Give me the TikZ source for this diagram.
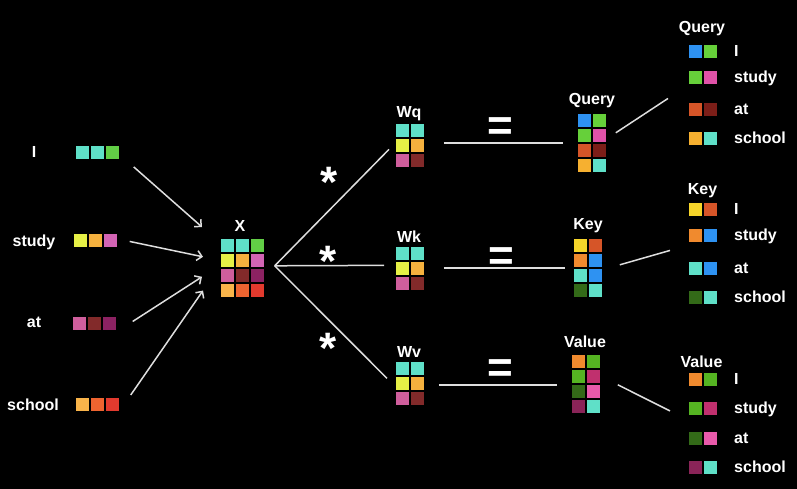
\documentclass[tikz,border=0pt]{standalone}
\usepackage{fontspec}
\setmainfont{Liberation Sans}
\usetikzlibrary{arrows.meta,calc}

\definecolor{linegray}{HTML}{DEDEDE}
\definecolor{cTeal}{HTML}{5FE0C8}
\definecolor{cGreen}{HTML}{62CE46}
\definecolor{cYellow}{HTML}{E6F046}
\definecolor{cOrange}{HTML}{F5B13E}
\definecolor{cOrchid}{HTML}{D264B4}
\definecolor{cRose}{HTML}{CF5E9C}
\definecolor{cBrown}{HTML}{822A2A}
\definecolor{cPlum}{HTML}{8C2262}
\definecolor{cApricot}{HTML}{F9B44A}
\definecolor{cFlame}{HTML}{EE6430}
\definecolor{cRed}{HTML}{E23A2E}
\definecolor{cBlue}{HTML}{2E92F2}
\definecolor{cLime}{HTML}{66D03A}
\definecolor{cHot}{HTML}{E052A8}
\definecolor{cRust}{HTML}{D65528}
\definecolor{cWine}{HTML}{7C1E18}
\definecolor{cGold}{HTML}{F6B030}
\definecolor{cSun}{HTML}{F6D52A}
\definecolor{cCarrot}{HTML}{F08A2E}
\definecolor{cForest}{HTML}{336A18}
\definecolor{cGrass}{HTML}{55B422}
\definecolor{cMagenta}{HTML}{C0306E}
\definecolor{cPink}{HTML}{E85AAA}
\definecolor{cMaroon}{HTML}{8A2458}

% one coloured square of a vector or matrix
\newcommand\cellc[1]{\node[cell,fill=#1]{};}

\begin{document}
\begin{tikzpicture}[x=1pt,y=-1pt,
  cell/.style={draw=black,line width=0.9pt,minimum width=14pt,minimum height=14pt,inner sep=0pt,outer sep=0pt},
  mat/.style={inner sep=0pt,outer sep=0pt,column sep=0pt,row sep=0pt,anchor=north west},
  lbl/.style={text=white,font=\fontsize{16}{19}\selectfont\bfseries,inner sep=0pt,anchor=base},
  word/.style={lbl,anchor=base west},
  link/.style={draw=linegray,line width=1.5pt},
  arr/.style={link,-{Straight Barb[length=5pt,width=10pt]}},
  opsign/.style={text=white,font=\fontsize{44}{48}\selectfont\bfseries,inner sep=0pt,anchor=base},
]
\fill[black] (0,0) rectangle (797,489);
\useasboundingbox (0,0) rectangle (797,489);

% input word embeddings
\matrix (wI) [mat] at (75,145) {\cellc{cTeal}&\cellc{cTeal}&\cellc{cGreen}\\};
\matrix (wS) [mat] at (73,233) {\cellc{cYellow}&\cellc{cOrange}&\cellc{cOrchid}\\};
\matrix (wA) [mat] at (72,316) {\cellc{cRose}&\cellc{cBrown}&\cellc{cPlum}\\};
\matrix (wC) [mat] at (75,397) {\cellc{cApricot}&\cellc{cFlame}&\cellc{cRed}\\};
\node[lbl] (tI) at (34,158) {I};
\node[lbl] (tS) at (34,246) {study};
\node[lbl] (tA) at (34,327) {at};
\node[lbl] (tC) at (33,410) {school};

% stacked input matrix X
\matrix (X) [mat] at (220,238) {
  \cellc{cTeal}&\cellc{cTeal}&\cellc{cGreen}\\
  \cellc{cYellow}&\cellc{cOrange}&\cellc{cOrchid}\\
  \cellc{cRose}&\cellc{cBrown}&\cellc{cPlum}\\
  \cellc{cApricot}&\cellc{cFlame}&\cellc{cRed}\\};
\node[lbl] (tX) at (240,231) {X};

% weight matrices
\matrix (Wq) [mat] at (395,123) {
  \cellc{cTeal}&\cellc{cTeal}\\
  \cellc{cYellow}&\cellc{cOrange}\\
  \cellc{cRose}&\cellc{cBrown}\\};
\matrix (Wk) [mat] at (395,246) {
  \cellc{cTeal}&\cellc{cTeal}\\
  \cellc{cYellow}&\cellc{cOrange}\\
  \cellc{cRose}&\cellc{cBrown}\\};
\matrix (Wv) [mat] at (395,361) {
  \cellc{cTeal}&\cellc{cTeal}\\
  \cellc{cYellow}&\cellc{cOrange}\\
  \cellc{cRose}&\cellc{cBrown}\\};
\node[lbl] (tWq) at (409,118) {Wq};
\node[lbl] (tWk) at (409,242) {Wk};
\node[lbl] (tWv) at (409,357) {Wv};

% results
\matrix (Q) [mat] at (577,113) {
  \cellc{cBlue}&\cellc{cLime}\\
  \cellc{cLime}&\cellc{cHot}\\
  \cellc{cRust}&\cellc{cWine}\\
  \cellc{cGold}&\cellc{cTeal}\\};
\matrix (K) [mat] at (573,238) {
  \cellc{cSun}&\cellc{cRust}\\
  \cellc{cCarrot}&\cellc{cBlue}\\
  \cellc{cTeal}&\cellc{cBlue}\\
  \cellc{cForest}&\cellc{cTeal}\\};
\matrix (V) [mat] at (571,354) {
  \cellc{cCarrot}&\cellc{cGrass}\\
  \cellc{cGrass}&\cellc{cMagenta}\\
  \cellc{cForest}&\cellc{cPink}\\
  \cellc{cMaroon}&\cellc{cTeal}\\};
\node[lbl] (tQ) at (592,105) {Query};
\node[lbl] (tK) at (588,229) {Key};
\node[lbl] (tV) at (585,347) {Value};

% per-word query rows
\node[lbl] (lQ) at (702,33) {Query};
\matrix (qI) [mat] at (688,44)  {\cellc{cBlue}&\cellc{cLime}\\};
\matrix (qS) [mat] at (688,70)  {\cellc{cLime}&\cellc{cHot}\\};
\matrix (qA) [mat] at (688,102) {\cellc{cRust}&\cellc{cWine}\\};
\matrix (qC) [mat] at (688,131) {\cellc{cGold}&\cellc{cTeal}\\};
\node[word] at (734,56.5)  {I};
\node[word] at (734,82.5)  {study};
\node[word] at (734,114.5) {at};
\node[word] at (734,143.5) {school};

% per-word key rows
\node[lbl] (lK) at (702.5,194) {Key};
\matrix (kI) [mat] at (688,202) {\cellc{cSun}&\cellc{cRust}\\};
\matrix (kS) [mat] at (688,228) {\cellc{cCarrot}&\cellc{cBlue}\\};
\matrix (kA) [mat] at (688,261) {\cellc{cTeal}&\cellc{cBlue}\\};
\matrix (kC) [mat] at (688,290) {\cellc{cForest}&\cellc{cTeal}\\};
\node[word] at (734,214.5) {I};
\node[word] at (734,240.5) {study};
\node[word] at (734,273.5) {at};
\node[word] at (734,302.5) {school};

% per-word value rows
\node[lbl] (lV) at (701.5,367) {Value};
\matrix (vI) [mat] at (688,372) {\cellc{cCarrot}&\cellc{cGrass}\\};
\matrix (vS) [mat] at (688,401) {\cellc{cGrass}&\cellc{cMagenta}\\};
\matrix (vA) [mat] at (688,431) {\cellc{cForest}&\cellc{cPink}\\};
\matrix (vC) [mat] at (688,460) {\cellc{cMaroon}&\cellc{cTeal}\\};
\node[word] at (734,384.5) {I};
\node[word] at (734,413.5) {study};
\node[word] at (734,443.5) {at};
\node[word] at (734,472.5) {school};

% words gathered into X
\draw[arr] ($(wI.south east)+(14,7)$) -- ($(X.north west)+(-18,-11)$);
\draw[arr] ($(wS.east)+(12,1)$) -- ($(X.west)+(-17,-11)$);
\draw[arr] ($(wA.east)+(16,-2)$) -- ($(X.west)+(-18,9)$);
\draw[arr] ($(wC.north east)+(11,-2)$) -- ($(X.south west)+(-17,-7)$);

% X times each weight matrix
\coordinate (fork) at ($(X.east)+(10,-2)$);
\draw[link] (fork) -- ($(Wq.west)+(-6,4)$);
\draw[link] (fork) -- ($(Wk.west)+(-11,-3)$);
\draw[link] (fork) -- ($(Wv.west)+(-8,-5)$);
\node[opsign] (m1) at (329.5,197) {*};
\node[opsign] (m2) at (328.5,276) {*};
\node[opsign] (m3) at (328,363) {*};

% equals the projected matrices
\draw[link] ($(Wq.east |- Q.west)+(19,0)$) -- ($(Q.west)+(-14,0)$);
\draw[link] ($(Wk.east |- K.west)+(19,0)$) -- ($(K.west)+(-8,0)$);
\draw[link] ($(Wv.east |- V.west)+(14,1)$) -- ($(V.west)+(-14,1)$);
\node[opsign] (e1) at (500.5,141) {=};
\node[opsign] (e2) at (501.5,270) {=};
\node[opsign] (e3) at (500.5,382) {=};

% split into per-word rows
\draw[link] ($(Q.east)+(9,-10)$) -- ($(qS.west)+(-20,21)$);
\draw[link] ($(K.east)+(17,-3)$) -- ($(kS.west)+(-18,15)$);
\draw[link] ($(V.east)+(17,1)$) -- ($(vS.west)+(-18,2.5)$);
\end{tikzpicture}
\end{document}
